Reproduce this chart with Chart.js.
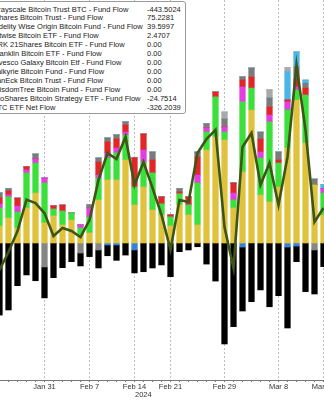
<!DOCTYPE html>
<html><head><meta charset="utf-8">
<script src="https://cdn.jsdelivr.net/npm/chart.js@4.4.1/dist/chart.umd.min.js"></script>
<style>
html,body{margin:0;padding:0;background:#fff;width:324px;height:400px;overflow:hidden;position:relative;font-family:"Liberation Sans",Arial,sans-serif;}
#c{position:absolute;left:-5px;top:0;}
#legend{position:absolute;left:-12px;top:1px;width:196px;height:111px;border:1px solid #9a9a9a;border-radius:3px;background:#fff;font-size:7.5px;color:#222;}
.row{position:absolute;left:0;height:9px;line-height:9px;white-space:nowrap;}
.lab{position:absolute;left:3.5px;top:0;}
.val{position:absolute;left:158px;top:0;}
#year{position:absolute;left:135px;top:390px;font-size:7.5px;line-height:9px;color:#333;}
</style></head><body>
<canvas id="c" width="342" height="400"></canvas>
<div id="legend"></div>
<div id="year">2024</div>
<script>
// ---- data (USD millions) ----
const dates = ['Jan 24','Jan 25','Jan 26','Jan 29','Jan 30','Jan 31','Feb 1','Feb 2','Feb 5','Feb 6','Feb 7','Feb 8','Feb 9','Feb 12','Feb 13','Feb 14','Feb 15','Feb 16','Feb 20','Feb 21','Feb 22','Feb 23','Feb 26','Feb 27','Feb 28','Feb 29','Mar 1','Mar 4','Mar 5','Mar 6','Mar 7','Mar 8','Mar 11','Mar 12','Mar 13','Mar 14','Mar 15','Mar 18'];
const tickLabels = ['Jan 31','Feb 7','Feb 14','Feb 21','Feb 29','Mar 8','Mar 15'];

const ibit = [100,147,88,206,294,118,159,106,135,47,59,253,371,371,488,224,329,194,165,100,224,165,106,547,624,606,206,418,782,282,241,329,559,841,588,341,165];
const fbtc = [106,124,94,206,176,235,41,82,41,41,94,129,129,159,147,106,147,218,65,53,65,59,247,106,235,47,47,412,129,218,471,141,224,59,282,0,129];
const bitb = [24,12,35,18,24,29,0,0,0,18,53,18,29,29,18,0,71,0,0,0,0,0,47,24,0,29,41,88,0,35,41,0,47,18,0,0,24];
const arkb = [35,24,47,18,0,0,18,35,0,0,0,76,65,53,41,171,94,76,41,12,12,47,106,0,29,0,59,41,65,76,47,18,12,47,41,0,0];
const franklin = [29,12,0,0,29,0,0,0,0,0,18,24,24,24,18,0,0,47,0,0,18,0,29,24,0,47,0,18,53,41,53,47,0,71,29,35,0];
const invesco = [0,0,0,0,0,0,0,0,0,0,0,0,0,0,0,0,0,0,0,0,0,0,0,0,0,0,0,0,0,0,0,0,165,88,18,0,24];
const vaneck = [0,0,0,0,0,0,0,0,0,0,0,0,0,0,0,0,0,0,0,0,0,0,0,0,0,41,0,0,0,0,47,0,24,0,0,0,0];
const wisdomtree = [0,0,0,0,0,-141,0,0,0,-59,0,-41,0,0,0,0,0,0,0,0,0,0,0,0,0,0,0,0,0,0,0,0,0,0,0,-41,0];
const proshares = [0,0,0,0,0,0,0,0,0,0,0,0,-12,-12,0,-41,0,0,0,0,0,0,0,0,0,0,0,-24,0,0,0,0,-24,-18,0,0,0];
const gbtc = [-424,-394,-251,-188,-222,-182,-204,-145,-110,-76,-80,-106,-63,-90,-71,-135,-169,-147,-129,-198,-51,-41,-22,-124,-224,-594,-492,-376,-345,-276,-375,-310,-476,-92,-286,-259,-139];
const netFlow = [-159,-53,70,255,235,176,41,88,71,35,135,371,529,494,624,341,476,324,165,-40,253,241,529,612,665,94,-147,565,647,341,471,224,506,1047,665,124,206];

const legendLabels = ['Grayscale Bitcoin Trust BTC - Fund Flow','iShares Bitcoin Trust - Fund Flow','Fidelity Wise Origin Bitcoin Fund - Fund Flow','Bitwise Bitcoin ETF - Fund Flow','ARK 21Shares Bitcoin ETF - Fund Flow','Franklin Bitcoin ETF - Fund Flow','Invesco Galaxy Bitcoin Etf - Fund Flow','Valkyrie Bitcoin Fund - Fund Flow','VanEck Bitcoin Trust - Fund Flow','WisdomTree Bitcoin Fund - Fund Flow','ProShares Bitcoin Strategy ETF - Fund Flow','BTC ETF Net Flow'];
const legendValues = ['-443.5024','75.2281','39.5997','2.4707','0.00','0.00','0.00','0.00','0.00','0.00','-24.7514','-326.2039'];

// ---- legend box (text) ----
const lg = document.getElementById('legend');
legendLabels.forEach((t, i) => {
  const r = document.createElement('div');
  r.className = 'row';
  r.style.top = (2.5 + 8.94 * i) + 'px';
  r.innerHTML = '<span class="lab"></span><span class="val"></span>';
  r.children[0].textContent = t;
  r.children[1].textContent = legendValues[i];
  lg.appendChild(r);
});

// ---- chart ----
const PX_PER_M = 85 / 500;
const yMin = -(380 - 243) / PX_PER_M;
const yMax = 243 / PX_PER_M;
const bar = (label, data, color) => ({label, data, backgroundColor: color, borderWidth: 0, barThickness: 5.6, order: 1});

new Chart(document.getElementById('c'), {
  type: 'bar',
  data: {
    labels: dates,
    datasets: [
      bar('iShares', ibit, '#e0c23c'),
      bar('Fidelity', fbtc, '#3be03b'),
      bar('Bitwise', bitb, '#e23fe0'),
      bar('ARK 21Shares', arkb, '#e02626'),
      bar('Franklin', franklin, '#7b7b7b'),
      bar('Invesco Galaxy', invesco, '#48b6e8'),
      bar('VanEck', vaneck, '#a9a9a9'),
      bar('WisdomTree', wisdomtree, '#868686'),
      bar('ProShares', proshares, '#3b80d8'),
      bar('Grayscale', gbtc, '#000000'),
      {type: 'line', label: 'Net Flow', data: netFlow, stack: 'net', order: 0,
       borderColor: '#3d5616', borderWidth: 2.6, pointRadius: 0, tension: 0, fill: false}
    ]
  },
  options: {
    responsive: false, animation: false, devicePixelRatio: 1,
    layout: {padding: 0},
    plugins: {legend: {display: false}, tooltip: {enabled: false}},
    scales: {
      x: {
        stacked: true, offset: true,
        grid: {offset: false, drawTicks: true, tickLength: 2, tickColor: '#777', tickBorderDash: [], lineWidth: 1,
               color: c => tickLabels.includes(dates[c.index]) ? '#bdbdbd' : 'rgba(0,0,0,0)'},
        border: {display: true, color: '#777', width: 1, dash: [2, 2]},
        ticks: {autoSkip: false, maxRotation: 0, minRotation: 0, padding: 0, color: '#333',
                font: {family: 'Liberation Sans', size: 7.5},
                callback: (v, i) => tickLabels.includes(dates[i]) ? dates[i] : ''},
        afterFit: s => { s.height = 20; }
      },
      y: {
        stacked: true, min: yMin, max: yMax,
        ticks: {display: false, stepSize: 500},
        grid: {drawTicks: false, lineWidth: 1,
               color: c => (c.tick && Math.abs(c.tick.value % 500) < 1e-6) ? '#bdbdbd' : 'rgba(0,0,0,0)'},
        border: {display: false, dash: [2, 2]},
        afterFit: s => { s.width = 0; }
      }
    }
  }
});
</script>
</body></html>
